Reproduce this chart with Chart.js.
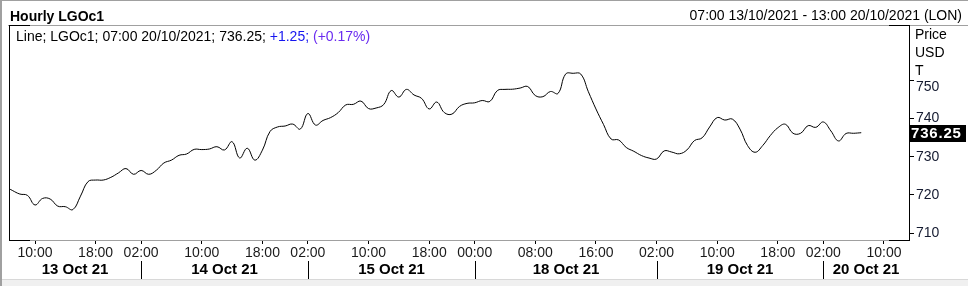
<!DOCTYPE html>
<html><head><meta charset="utf-8">
<script src="https://cdn.jsdelivr.net/npm/chart.js@4.4.1/dist/chart.umd.min.js"></script>
<style>
html,body{margin:0;padding:0;background:#fff;}
#wrap{position:relative;width:968px;height:286px;overflow:hidden;font-family:"Liberation Sans",Arial,sans-serif;color:#000;}
#c{position:absolute;left:0;top:0;}
.t{position:absolute;white-space:nowrap;font-size:14px;line-height:16px;}
</style></head><body>
<div id="wrap">
<canvas id="c" width="968" height="286"></canvas>
<div class="t" style="left:10px;top:8px;font-weight:bold;">Hourly LGOc1</div>
<div class="t" style="right:6px;top:7px;">07:00 13/10/2021 - 13:00 20/10/2021 (LON)</div>
<div class="t" style="left:16px;top:28px;">Line; LGOc1; 07:00 20/10/2021; 736.25; <span style="color:#1515f0">+1.25;</span> <span style="color:#6a2cf0">(+0.17%)</span></div>
<div class="t" style="left:915px;top:26px;">Price</div>
<div class="t" style="left:915px;top:44px;">USD</div>
<div class="t" style="left:915px;top:62px;">T</div>
</div>
<script>
// ---- data ----
const firstBar = -1; // bar index of the first price (06:00 13 Oct, clipped at left edge)
const prices = [
  722.3, 721.2, 720.25, 719.9, 717.4, 719.1, 718.95, 717.1, 716.95, 716.2,
  719.7, 723.5, 723.9, 723.9, 724.6, 725.75, 726.9, 725.4, 726.4, 725.4,
  726.45, 728.35, 729.1, 730.35, 730.7, 731.9, 731.85, 732.0, 732.6, 731.75,
  733.9, 729.65, 732.2, 729.1, 731.7, 736.55, 737.75, 738.0, 738.5, 737.2,
  741.25, 738.25, 739.45, 740.2, 741.5, 743.5, 743.65, 744.5, 742.55, 742.7,
  743.6, 747.25, 745.55, 747.55, 746.1, 745.2, 742.45, 744.25, 741.5, 741.1,
  743.1, 743.9, 744.05, 744.65, 744.4, 747.25, 747.55, 747.6, 747.9, 748.3,
  745.95, 745.65, 747.0, 746.5, 751.55, 751.75, 751.55, 746.95, 742.45, 738.4,
  734.6, 734.35, 732.4, 731.4, 730.3, 729.65, 729.4, 731.5, 731.2, 730.75,
  731.75, 734.2, 734.9, 737.75, 740.2, 739.55, 739.8, 737.2, 732.9, 731.15,
  732.9, 735.5, 737.55, 738.45, 736.1, 736.1, 738.1, 737.65, 739.05, 736.7,
  734.1, 736.05, 736.1, 736.25
];
const timeTickBars = [3, 11, 17, 25, 33, 39, 47, 55, 61, 69, 77, 85, 93, 101, 107, 115];
const timeTickLabels = ['10:00','18:00','02:00','10:00','18:00','02:00','10:00','18:00','00:00','08:00','16:00','02:00','10:00','18:00','02:00','10:00'];
const dayLabels = ['13 Oct 21','14 Oct 21','15 Oct 21','18 Oct 21','19 Oct 21','20 Oct 21'];
const daySplitBars = [17, 39, 61, 85, 107];
const priceTicks = [710, 720, 730, 740, 750];
const lastPrice = 736.25;

const FONT = '"Liberation Sans", Arial, sans-serif';
const points = prices.map((v, k) => ({x: firstBar + k, y: v}));

const framePlugin = {
  id: 'frame',
  beforeDraw(chart) {
    const c = chart.ctx;
    c.save();
    c.fillStyle = '#fff';
    c.fillRect(0, 0, 968, 286);
    c.restore();
  },
  afterDraw(chart) {
    const c = chart.ctx, a = chart.chartArea, xs = chart.scales.x, ys = chart.scales.y;
    c.save();
    // outer window border
    c.fillStyle = '#f0f0f0';
    c.fillRect(0, 279, 968, 7);
    c.fillStyle = '#a0a0a0';
    c.fillRect(0, 0, 2, 286);
    c.fillRect(0, 0, 968, 1);
    c.fillStyle = '#d8d8d8';
    c.fillRect(2, 279, 966, 1);
    // header separator
    c.strokeStyle = '#a0a0a0';
    c.lineWidth = 1;
    c.beginPath(); c.moveTo(8, 25.5); c.lineTo(968, 25.5); c.stroke();
    // plot frame
    c.beginPath(); c.moveTo(a.left, a.bottom + 0.5); c.lineTo(a.right, a.bottom + 0.5); c.stroke();
    c.strokeStyle = '#000';
    c.beginPath();
    c.moveTo(a.left + 0.5, a.top); c.lineTo(a.left + 0.5, a.bottom + 1);
    c.moveTo(a.right + 0.5, a.top); c.lineTo(a.right + 0.5, a.bottom + 1);
    c.moveTo(a.left, a.top + 0.5); c.lineTo(a.left + 21, a.top + 0.5);
    c.moveTo(a.right - 20, a.top + 0.5); c.lineTo(a.right + 1, a.top + 0.5);
    c.moveTo(a.left, a.bottom + 0.5); c.lineTo(a.left + 21, a.bottom + 0.5);
    c.moveTo(a.right - 20, a.bottom + 0.5); c.lineTo(a.right + 1, a.bottom + 0.5);
    c.stroke();
    // day separators and labels
    const bounds = [a.left].concat(daySplitBars.map(b => Math.round(xs.getPixelForValue(b)))).concat([a.right]);
    c.beginPath();
    daySplitBars.forEach(b => {
      const px = Math.round(xs.getPixelForValue(b)) + 0.5;
      c.moveTo(px, 261); c.lineTo(px, 279);
    });
    c.stroke();
    c.fillStyle = '#000';
    c.font = 'bold 15px ' + FONT;
    c.textAlign = 'center';
    c.textBaseline = 'middle';
    dayLabels.forEach((d, k) => {
      c.fillText(d, (bounds[k] + bounds[k + 1]) / 2, 270);
    });
    // last value box
    const py = Math.round(ys.getPixelForValue(lastPrice));
    c.fillStyle = '#000';
    c.fillRect(a.right + 1, py - 8, 56, 17);
    c.fillStyle = '#fff';
    c.font = 'bold 15px ' + FONT;
    c.textAlign = 'left';
    c.textBaseline = 'middle';
    if ('letterSpacing' in c) c.letterSpacing = '0.8px';
    c.fillText(String(lastPrice.toFixed(2)), a.right + 2, py + 1);
    c.restore();
  }
};

new Chart(document.getElementById('c'), {
  type: 'line',
  data: {
    datasets: [{
      data: points,
      borderColor: '#000',
      borderWidth: 1,
      pointRadius: 0,
      tension: 0.42,
      fill: false,
      clip: 0
    }]
  },
  options: {
    responsive: false,
    animation: false,
    devicePixelRatio: 1,
    layout: {padding: {left: 9, top: 25, right: 0, bottom: 0}},
    plugins: {legend: {display: false}, tooltip: {enabled: false}},
    scales: {
      x: {
        type: 'linear',
        min: -0.43,
        max: 118.3,
        afterBuildTicks: s => { s.ticks = timeTickBars.map(v => ({value: v})); },
        afterFit: s => { s.height = 46; },
        grid: {drawOnChartArea: false, tickLength: 4, color: '#000'},
        border: {display: false},
        ticks: {
          autoSkip: false, maxRotation: 0, padding: 1,
          color: '#1a1a1a',
          font: {family: FONT, size: 14},
          callback: v => timeTickLabels[timeTickBars.indexOf(v)]
        }
      },
      y: {
        position: 'right',
        min: 708.26,
        max: 764.35,
        afterBuildTicks: s => { s.ticks = priceTicks.map(v => ({value: v})); },
        afterFit: s => { s.width = 59; },
        grid: {drawOnChartArea: false, tickLength: 5, color: '#000'},
        border: {display: false},
        ticks: {
          padding: 2,
          color: '#141a30',
          font: {family: FONT, size: 14, lineHeight: 1},
          callback: v => v === 750 ? ['', '750'] : String(v)
        }
      }
    }
  },
  plugins: [framePlugin]
});
</script>
</body></html>
